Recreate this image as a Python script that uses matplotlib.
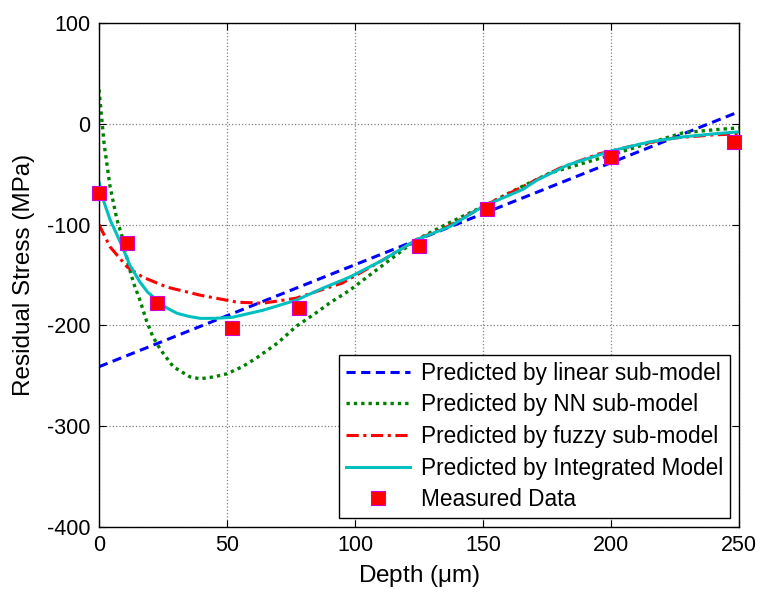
import matplotlib
matplotlib.use("Agg")
import matplotlib.pyplot as plt

plt.rcParams['font.family'] = ['Liberation Sans', 'DejaVu Sans']
plt.rcParams['mathtext.fontset'] = 'custom'
plt.rcParams['mathtext.rm'] = 'Liberation Sans'
plt.rcParams['axes.unicode_minus'] = False

# Measured data
meas_x = [0, 11, 22.7, 52, 78, 125, 151.5, 200, 248]
meas_y = [-69, -118, -178, -203, -183, -121, -85, -33, -18]

# Linear sub-model
lin_x = [0, 250]
lin_y = [-241, 12]

# NN sub-model
nn_x = [0, 2, 4.3, 7, 9.4, 11.3, 13.5, 16, 18.5, 21, 24, 29, 35.5, 39.5, 45, 50, 56, 61.7, 70, 77, 84, 90, 98, 111, 124, 137, 150, 163, 176, 188, 200, 215, 228, 240, 250]
nn_y = [34, -20, -62, -95, -115, -138, -158, -175, -195, -211, -224, -241, -251, -253, -251, -248, -241, -232, -217, -201, -189, -178, -165, -140, -115, -98, -82, -65, -49, -40, -31, -19, -9, -6, -4]

# Fuzzy sub-model
fz_x = [0, 4.3, 11, 17, 26.5, 39.5, 54, 64, 77, 95, 111, 124, 137, 150, 165, 180, 195, 210, 225, 240, 250]
fz_y = [-100, -122, -142, -152, -162, -170, -177, -178, -173, -158, -135, -115, -101, -82, -63, -44, -30, -21, -14, -11, -10]

# Integrated model
im_x = [0, 2, 4.3, 7, 9.4, 12, 16, 19, 22.7, 26, 30.5, 35, 39.5, 45, 52, 64, 77, 87.5, 98, 111, 124, 137, 150, 165.6, 171, 183, 200, 215, 228, 240, 250]
im_y = [-58, -78, -95, -110, -124, -140, -157, -167, -175, -182, -188, -191, -193, -193, -192, -185, -175, -163, -152, -135, -115, -102, -82, -65, -56, -41, -27, -18, -13, -10, -8]

fig = plt.figure(figsize=(7.63, 5.96), dpi=100)
ax = fig.add_axes([99/763, 1-527/596, 640/763, 504/596])

ax.plot(lin_x, lin_y, linestyle=(0, (3, 1.8)), color='#0000ff', lw=2.2, label='Predicted by linear sub-model')
ax.plot(nn_x, nn_y, linestyle=(0, (1, 1.2)), color='#008000', lw=2.4, label='Predicted by NN sub-model')
ax.plot(fz_x, fz_y, linestyle=(0, (4, 1.5, 1, 1.5)), color='#ff0000', lw=2.2, label='Predicted by fuzzy sub-model')
ax.plot(im_x, im_y, linestyle='-', color='#00bfbf', lw=2.2, label='Predicted by Integrated Model')
ax.plot(meas_x, meas_y, linestyle='none', marker='s', markersize=10, markerfacecolor='#ff0000',
        markeredgecolor='#d000d0', markeredgewidth=0.8, label='Measured Data', clip_on=False, zorder=5)

ax.set_xlim(0, 250)
ax.set_ylim(-400, 100)
ax.set_xticks([0, 50, 100, 150, 200, 250])
ax.set_yticks([-400, -300, -200, -100, 0, 100])
ax.grid(True, linestyle=':', color='#808080', lw=0.9)
ax.tick_params(direction='in', top=True, right=True, labelsize=15.5, length=5, width=0.8)
ax.tick_params(axis='x', pad=6)
ax.tick_params(axis='y', pad=6)
for s in ax.spines.values():
    s.set_linewidth(1.0)

ax.set_xlabel('Depth ($\\mathrm{\\mu}$m)', fontsize=17.5, labelpad=5)
ax.set_ylabel('Residual Stress (MPa)', fontsize=17.5, labelpad=9)

leg = ax.legend(loc='lower right', bbox_to_anchor=(0.986, 0.018), fontsize=16.3, frameon=True,
                fancybox=False, edgecolor='black', framealpha=1, handlelength=2.8,
                borderaxespad=0, labelspacing=0.38, handletextpad=0.5, borderpad=0.3)
leg.get_frame().set_linewidth(1.0)

fig.savefig('out.png', dpi=100)
